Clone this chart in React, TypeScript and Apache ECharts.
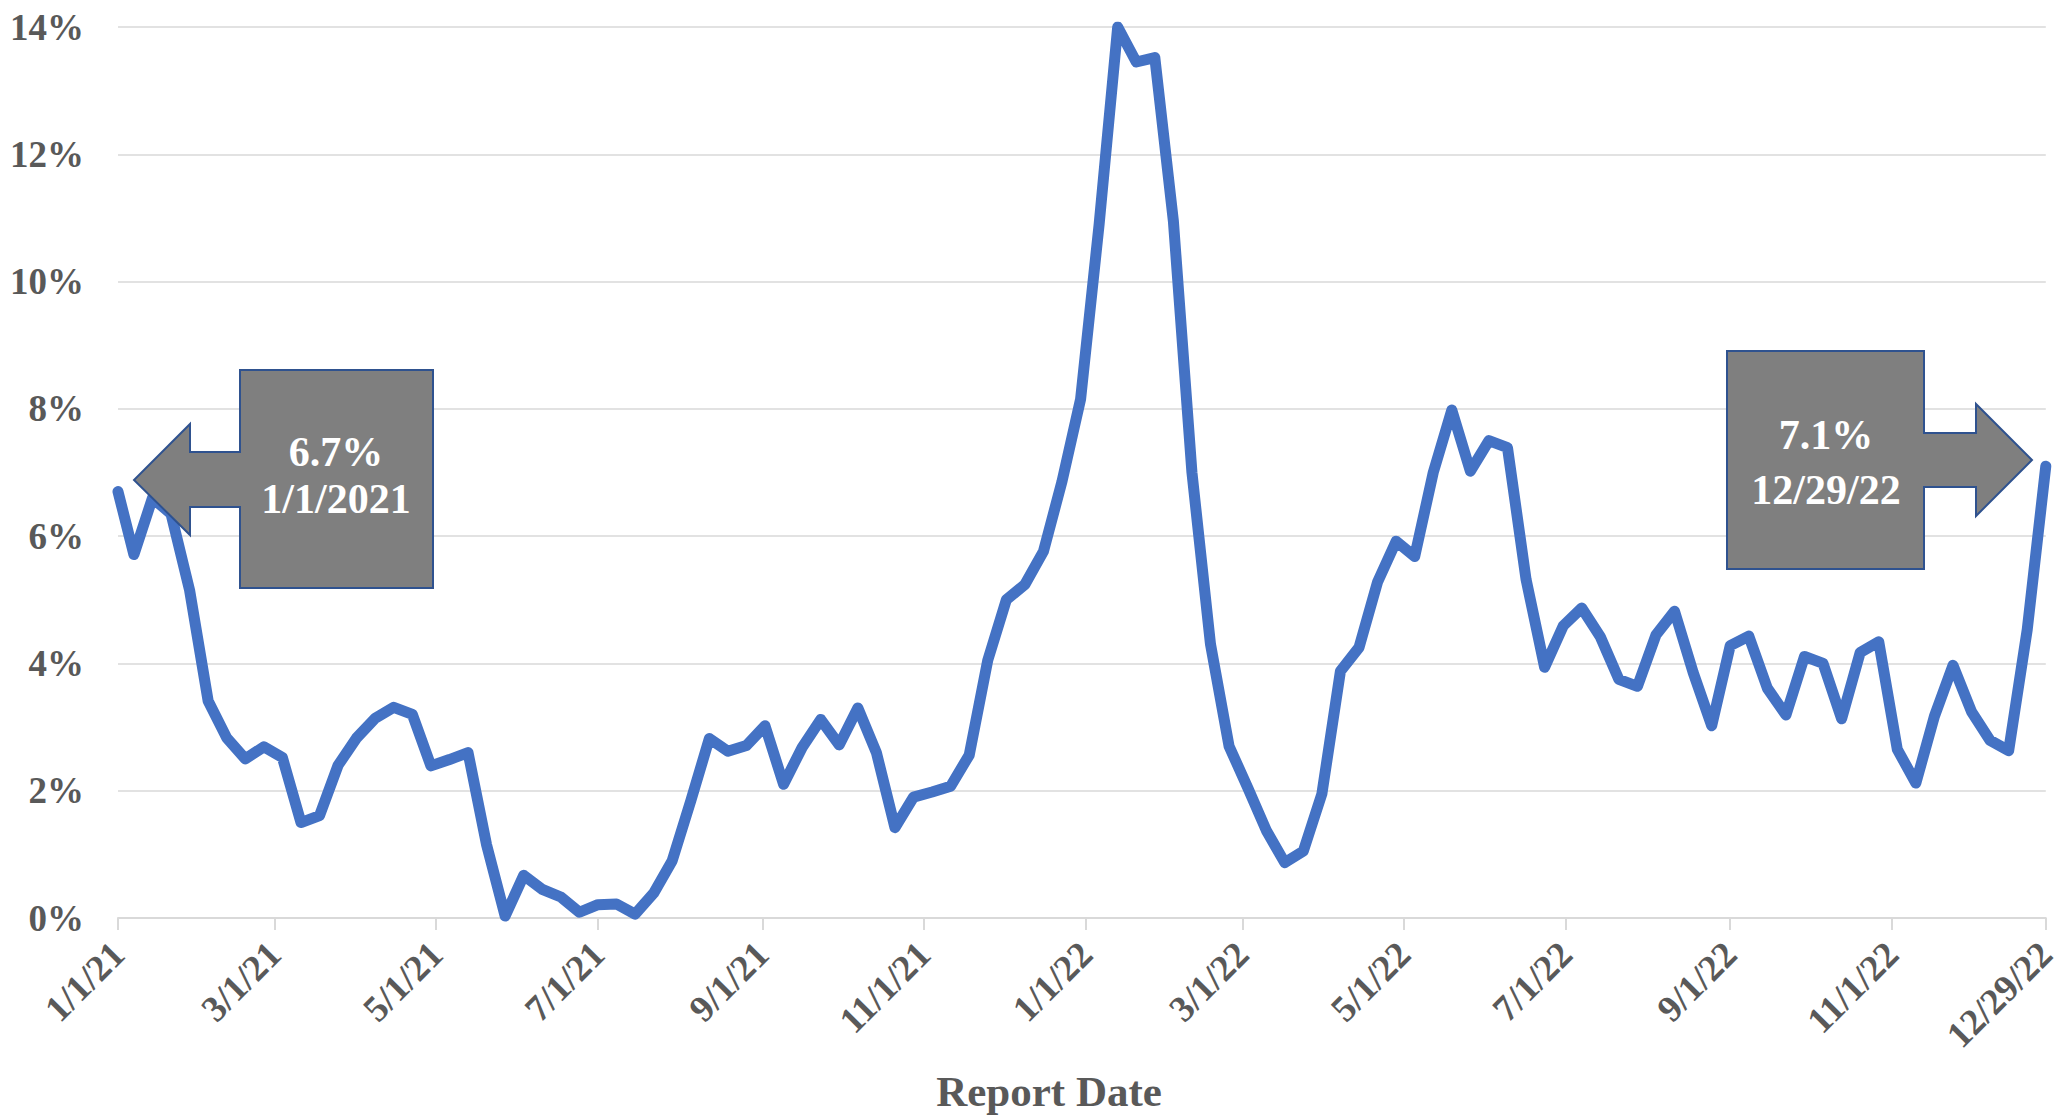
import React, { useEffect, useRef } from "react";
import * as echarts from "echarts";

// First report date, then weekly Thursday reports
const FIRST_REPORT = "2021-01-01";
const FIRST_WEEKLY = "2021-01-07";

// Weekly positivity (%)
const VALUES: number[] = [
  6.7, 5.71, 6.6, 6.35, 5.15, 3.41, 2.83, 2.5, 2.69, 2.52,
  1.5, 1.61, 2.4, 2.83, 3.14, 3.31, 3.2, 2.39, 2.49, 2.6,
  1.15, 0.03, 0.67, 0.45, 0.33, 0.09, 0.21, 0.22, 0.06, 0.39,
  0.9, 1.84, 2.82, 2.62, 2.71, 3.02, 2.1, 2.68, 3.12, 2.72,
  3.3, 2.6, 1.42, 1.9, 1.98, 2.07, 2.56, 4.05, 5.0, 5.24,
  5.76, 6.86, 8.15, 10.9, 14.0, 13.45, 13.52, 10.95, 7.0, 4.3,
  2.7, 2.05, 1.38, 0.87, 1.05, 1.95, 3.88, 4.25, 5.28, 5.92,
  5.68, 7.0, 7.98, 7.02, 7.5, 7.39, 5.32, 3.94, 4.59, 4.87,
  4.42, 3.75, 3.64, 4.45, 4.82, 3.86, 3.02, 4.28, 4.43, 3.61,
  3.19, 4.11, 4.0, 3.13, 4.17, 4.34, 2.65, 2.12, 3.17, 3.97,
  3.24, 2.79, 2.63, 4.53, 7.1,
];

const TICK_DATES: string[] = [
  "2021-01-01", "2021-03-01", "2021-05-01", "2021-07-01", "2021-09-01",
  "2021-11-01", "2022-01-01", "2022-03-01", "2022-05-01", "2022-07-01",
  "2022-09-01", "2022-11-01", "2022-12-29",
];
const TICK_LABELS: string[] = [
  "1/1/21", "3/1/21", "5/1/21", "7/1/21", "9/1/21", "11/1/21", "1/1/22",
  "3/1/22", "5/1/22", "7/1/22", "9/1/22", "11/1/22", "12/29/22",
];

const Y_MIN = 0;
const Y_MAX = 14;
const Y_STEP = 2;

const X_TITLE = "Report Date";
const LEFT_NOTE = ["6.7%", "1/1/2021"];
const RIGHT_NOTE = ["7.1%", "12/29/22"];

const DAY_MS = 86400000;
const toDay = (iso: string) =>
  Math.round((Date.parse(iso + "T00:00:00Z") - Date.parse(FIRST_REPORT + "T00:00:00Z")) / DAY_MS);

const SERIF = "'Liberation Serif', 'Times New Roman', serif";
const GREY_TEXT = "#595959";
const GRID_COLOR = "#D9D9D9";

export default function App() {
  const ref = useRef<HTMLDivElement>(null);

  useEffect(() => {
    if (!ref.current) return;
    const chart = echarts.init(ref.current, undefined, { renderer: "svg" });

    const weeklyStart = toDay(FIRST_WEEKLY);
    const data = VALUES.map((v, i) => [i === 0 ? 0 : weeklyStart + 7 * (i - 1), v]);
    const tickDays = TICK_DATES.map(toDay);
    const labelFor = (v: number) => {
      const idx = tickDays.indexOf(Math.round(v));
      return idx >= 0 ? TICK_LABELS[idx] : "";
    };

    const calloutStyle = { fill: "#7F7F7F", stroke: "#2F528F", lineWidth: 2 };
    const noteText = (t: string, x: number, y: number) => ({
      type: "text",
      x,
      y,
      style: {
        text: t,
        fill: "#FFFFFF",
        font: `bold 42px ${SERIF}`,
        align: "center",
        verticalAlign: "middle",
      },
      z: 20,
    });

    chart.setOption({
      animation: false,
      backgroundColor: "#FFFFFF",
      grid: { left: 118, right: 14, top: 27, bottom: 199, containLabel: false },
      xAxis: {
        type: "value",
        min: tickDays[0],
        max: tickDays[tickDays.length - 1],
        splitLine: { show: false },
        axisLine: { show: true, lineStyle: { color: GRID_COLOR, width: 2 } },
        axisTick: {
          show: true,
          customValues: tickDays,
          length: 12,
          lineStyle: { color: GRID_COLOR, width: 2 },
        },
        axisLabel: {
          customValues: tickDays,
          formatter: (v: number) => labelFor(v),
          rotate: 45,
          margin: 30,
          fontSize: 37,
          fontWeight: "bold",
          fontFamily: SERIF,
          color: GREY_TEXT,
        },
      },
      yAxis: {
        type: "value",
        min: Y_MIN,
        max: Y_MAX,
        interval: Y_STEP,
        axisLine: { show: false },
        axisTick: { show: false },
        splitLine: { show: true, lineStyle: { color: GRID_COLOR, width: 1.5 } },
        axisLabel: {
          formatter: (v: number) => `${v}%`,
          margin: 34,
          fontSize: 37,
          fontWeight: "bold",
          fontFamily: SERIF,
          color: GREY_TEXT,
        },
      },
      series: [
        {
          type: "line",
          data,
          showSymbol: false,
          symbol: "none",
          lineStyle: { color: "#4472C4", width: 11, join: "round", cap: "round" },
          z: 5,
        },
      ],
      graphic: [
        {
          type: "text",
          x: 1049,
          y: 1091,
          style: {
            text: X_TITLE,
            fill: GREY_TEXT,
            font: `bold 43px ${SERIF}`,
            align: "center",
            verticalAlign: "middle",
          },
        },
        {
          type: "polygon",
          shape: {
            points: [
              [240, 370], [433, 370], [433, 588], [240, 588], [240, 507],
              [190, 507], [190, 535], [134, 480], [190, 424], [190, 452], [240, 452],
            ],
          },
          style: calloutStyle,
          z: 10,
        },
        noteText(LEFT_NOTE[0], 336, 452),
        noteText(LEFT_NOTE[1], 336, 499),
        {
          type: "polygon",
          shape: {
            points: [
              [1727, 351], [1924, 351], [1924, 433], [1976, 433], [1976, 404],
              [2032, 460], [1976, 516], [1976, 487], [1924, 487], [1924, 569], [1727, 569],
            ],
          },
          style: calloutStyle,
          z: 10,
        },
        noteText(RIGHT_NOTE[0], 1826, 435),
        noteText(RIGHT_NOTE[1], 1826, 490),
      ],
    });

    return () => chart.dispose();
  }, []);

  return (
    <div
      ref={ref}
      style={{ position: "fixed", left: 0, top: 0, width: 2061, height: 1117, background: "#fff" }}
    />
  );
}
